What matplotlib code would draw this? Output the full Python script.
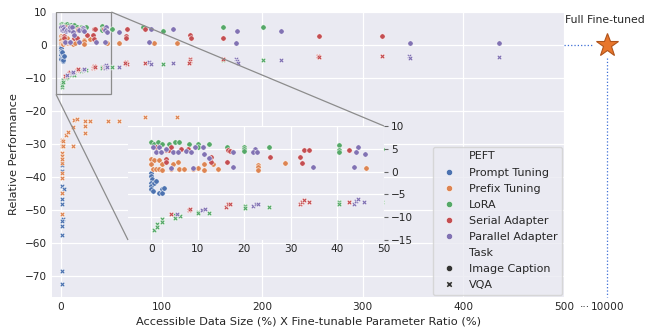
import numpy as np
import matplotlib
matplotlib.use("Agg")
import matplotlib.pyplot as plt
from matplotlib.lines import Line2D
from mpl_toolkits.axes_grid1.inset_locator import mark_inset

# ---- data: x = data size (%) x tunable param ratio (%), y = relative performance
methods = ["Prompt Tuning", "Prefix Tuning", "LoRA", "Serial Adapter", "Parallel Adapter"]
colors = ['#4C72B0', '#DD8452', '#55A868', '#C44E52', '#8172B3']

prompt_cap_x = [0, 0, 0.1, 0, 0, 0, 0.6, 1.0, 0.3, 2.4, 1.7, 2.2, 2.8]
prompt_cap_y = [-0.2, -0.9, -1.7, -2.4, -3.1, -3.9, -2.4, -2.0, -4.2, -3.9, -4.8, -4.6, -3.5]
prompt_vqa_x = [1, 1, 1, 1, 3, 1, 1, 1, 1.5, 1, 1, 1, 1, 1]
prompt_vqa_y = [-35.5, -36.3, -38.4, -42.9, -43.7, -44.9, -46.8, -48.3, -52.8, -53.5,
                -55.1, -57.6, -68.5, -72.7]

prefix_cap_x = [0, 0.6, 1.7, 2.4, 0, 0.3, 1.0, 1.7, 2.4, 4.2, 4.6, 5.7, 6.0, 7.1, 8.9,
                10.0, 11.4, 11.4, 13.2, 14.3, 23, 23, 23, 28.8, 46.1, 57.7, 92, 115]
prefix_cap_y = [2.7, 2.5, 2.5, 1.6, 1.6, 0.5, 0.5, 0.5, 0.3, 0.5, 1.6, 2.0, 0.5, 0.5, 0.5,
                0.7, 1.6, 0.3, 1.6, 0.5, 1.5, 1.1, 0.4, 1.8, 0.7, 0.7, 0.5, 0.5]
prefix_vqa_x = [0.5, 0.5, 0.5, 0.5, 0.5, 0.5, 0.5, 0.5, 0.5, 0.5, 2.3, 2.3, 4.7, 7.3,
                12.2, 12.9, 15.6, 24, 24, 24, 29, 47, 57.7, 83.6, 115, 12.2]
prefix_vqa_y = [-29.0, -30.6, -32.7, -33.6, -35.8, -38.8, -40.4, -45.0, -51.2, -34.5,
                -29.3, -30.8, -27.3, -26.3, -24.8, -22.9, -22.5, -23.2, -24.5, -26.6,
                -23.2, -23.2, -23.0, -21.9, -21.9, -30.6]

lora_cap_x = [0, 0.6, 1.4, 2.4, 3.9, 5.0, 6.0, 8.2, 10, 10, 12.5, 16.2, 20, 20, 20, 25.2,
              40.3, 40.3, 40.3, 50.4, 81, 101, 161, 201]
lora_cap_y = [6.4, 6.1, 6.4, 6.1, 6.1, 6.4, 6.4, 6.0, 6.0, 5.4, 6.0, 5.5, 5.5, 5.0, 4.6, 5.3,
              5.9, 4.8, 4.4, 4.9, 5.5, 4.2, 5.5, 5.4]
lora_vqa_x = [0.6, 1.2, 1.2, 2.4, 2.4, 5, 5, 6.2, 10, 10, 12.5, 20.1, 20.1, 25.2, 40.3, 40.3,
              50.4, 101, 161, 201]
lora_vqa_y = [-12.9, -11.6, -12.1, -10.5, -11.1, -9.6, -10.1, -9.8, -8.8, -9.1, -9.0, -7.5,
              -8.0, -7.7, -6.6, -7.0, -6.6, -5.9, -4.5, -4.7]

serial_cap_x = [1.0, 3.2, 3.9, 4.2, 6.4, 7.8, 3.2, 3.2, 12.9, 12.9, 16.4, 17, 16.2, 25.6,
                31.9, 32.3, 32.8, 33.8, 42.5, 66, 64.5, 65, 83, 128, 129, 161, 256, 319]
serial_cap_y = [5.3, 4.7, 4.7, 5.4, 4.9, 4.9, 2.7, 2.2, 3.1, 2.2, 4.8, 4.6, 2.2, 3.1,
                3.1, 1.8, 4.8, 4.8, 4.8, 4.8, 2.7, 2.2, 4.8, 3.0, 2.2, 2.1, 2.8, 2.8]
serial_vqa_x = [4.2, 8.2, 8.4, 16.1, 16.5, 17, 31.9, 32.3, 32.8, 33.9, 42.4, 65, 66, 64,
                83, 128, 128, 127, 161, 255, 256, 319]
serial_vqa_y = [-9.4, -8.5, -8.1, -7.7, -7.2, -7.2, -7.0, -6.6, -6.3, -6.6, -6.6, -5.3,
                -5.9, -5.6, -5.5, -4.3, -4.8, -5.6, -4.3, -3.3, -3.7, -3.5]

parallel_cap_x = [0.3, 1.0, 1.7, 2.1, 3.2, 4.6, 5.7, 7.5, 8.6, 9.3, 11.1, 11.4, 12.5, 4.2,
                  8.9, 17.5, 22.2, 21.8, 22.8, 17.5, 34.7, 43.5, 44.4, 43.9, 45.9, 58, 87,
                  89, 111, 174, 175, 219, 347, 435]
parallel_cap_y = [5.3, 4.4, 5.4, 4.4, 4.9, 4.2, 4.4, 4.5, 4.4, 5.3, 5.3, 3.9, 3.0, 0.8,
                  0.8, 4.4, 5.0, 4.4, 4.2, 0.9, 0.9, 0.9, 5.5, 4.4, 3.9, 3.9, 0.8, 4.8,
                  4.8, 0.7, 4.2, 4.2, 0.7, 0.7]
parallel_vqa_x = [5.6, 11, 11.6, 21.8, 22.4, 22.9, 43.5, 44, 44.5, 45.8, 58, 87, 89, 111,
                  174, 175, 176, 219, 346, 347, 435]
parallel_vqa_y = [-9.2, -8.5, -8.1, -7.5, -7.2, -7.2, -7.1, -6.5, -6.1, -6.6, -6.6, -5.3,
                  -5.7, -5.4, -4.3, -5.0, -5.6, -4.6, -3.5, -3.9, -3.6]

cap_x = [prompt_cap_x, prefix_cap_x, lora_cap_x, serial_cap_x, parallel_cap_x]
cap_y = [prompt_cap_y, prefix_cap_y, lora_cap_y, serial_cap_y, parallel_cap_y]
vqa_x = [prompt_vqa_x, prefix_vqa_x, lora_vqa_x, serial_vqa_x, parallel_vqa_x]
vqa_y = [prompt_vqa_y, prefix_vqa_y, lora_vqa_y, serial_vqa_y, parallel_vqa_y]

full_x = 543
full_y = 0

# ---- seaborn darkgrid look
fs = 7.6
TXT = '0.15'
plt.rcParams.update({
    "font.family":      "DejaVu Sans",
    "font.size":        fs,
    "axes.facecolor":   "#EAEAF2",
    "axes.edgecolor":   "white",
    "axes.grid":        True,
    "grid.color":       "white",
    "grid.linewidth":   0.9,
    "axes.labelcolor":  TXT,
    "text.color":       TXT,
    "xtick.color":      TXT,
    "ytick.color":      TXT,
    "xtick.major.size": 0,
    "ytick.major.size": 0,
    "xtick.labelsize":  fs,
    "ytick.labelsize":  fs,
})

fig = plt.figure(figsize=(6.46, 3.33), dpi=100)
ax = fig.add_axes([52 / 646, 36 / 333, 512 / 646, 285 / 333])
axins = fig.add_axes([128 / 646, 93 / 333, 256 / 646, 114 / 333])


def draw_points(a, s):
    for i in range(len(methods)):
        a.scatter(cap_x[i], cap_y[i], s=s, marker='o', color=colors[i],
                  edgecolors='white', linewidths=0.4, zorder=3)
        a.scatter(vqa_x[i], vqa_y[i], s=s, marker='X', color=colors[i],
                  edgecolors='white', linewidths=0.4, zorder=3)


draw_points(ax, 15)
draw_points(axins, 15)

for spine in ax.spines.values():
    spine.set_visible(False)
ax.set_axisbelow(True)
ax.set_xlim(-9, 500)
ax.set_ylim(-76.5, 10)
ax.set_xticks([0, 100, 200, 300, 400, 500])
ax.set_yticks([10, 0, -10, -20, -30, -40, -50, -60, -70])
ax.set_xlabel('Accessible Data Size (%) X Fine-tunable Parameter Ratio (%)', fontsize=8.2, labelpad=3)
ax.set_ylabel('Relative Performance', fontsize=8.2, labelpad=4)

# full fine-tuned reference outside the axis
ax.plot([500, 529], [full_y, full_y], color='#3D6FD6', lw=0.9, ls=':', clip_on=False)
ax.plot([full_x, full_x], [full_y - 4, -76.5], color='#3D6FD6', lw=0.9, ls=':', clip_on=False)
ax.plot(full_x, full_y, marker='*', ms=17, color='#E8762C', mec='#B0531A', mew=0.8,
        clip_on=False, zorder=5)
ax.text(580, full_y + 7.6, 'Full Fine-tuned', ha='right', va='center', fontsize=7.8,
        clip_on=False)
ax.annotate('10000', xy=(full_x, 0), xycoords=('data', 'axes fraction'),
            xytext=(0, -3.5), textcoords='offset points', ha='center', va='top',
            fontsize=fs, annotation_clip=False)
ax.annotate('\u00b7\u00b7\u00b7', xy=(521, 0), xycoords=('data', 'axes fraction'),
            xytext=(0, -3.5), textcoords='offset points', ha='center', va='top',
            fontsize=fs, annotation_clip=False)

# inset
for spine in axins.spines.values():
    spine.set_visible(False)
axins.set_axisbelow(True)
axins.set_xlim(-5, 50)
axins.set_ylim(-15, 10)
axins.set_xticks([0, 10, 20, 30, 40, 50])
axins.set_yticks([10, 5, 0, -5, -10, -15])
axins.yaxis.tick_right()
axins.tick_params(axis='y', length=3, width=0.8, color='0.4', pad=2)
axins.tick_params(axis='x', pad=3)
mark_inset(ax, axins, loc1=1, loc2=3, fc='none', ec='0.55', lw=0.9)

# legend
blank = Line2D([], [], ls='none')
handles = [blank]
labels = ['PEFT']
for m, c in zip(methods, colors):
    handles.append(Line2D([], [], ls='none', marker='o', mfc=c, mec='white', mew=0.4, ms=4.5))
    labels.append(m)
handles += [blank,
            Line2D([], [], ls='none', marker='o', mfc='0.2', mec='white', mew=0.4, ms=4.5),
            Line2D([], [], ls='none', marker='X', mfc='0.2', mec='white', mew=0.4, ms=4.5)]
labels += ['Task', 'Image Caption', 'VQA']
leg = ax.legend(handles, labels, loc='lower right', fontsize=8, frameon=True,
                facecolor='#EAEAF2', edgecolor='0.82', framealpha=0.8,
                handletextpad=0.8, borderaxespad=0.2, labelspacing=0.55)

fig.savefig('out.png', dpi=100)
